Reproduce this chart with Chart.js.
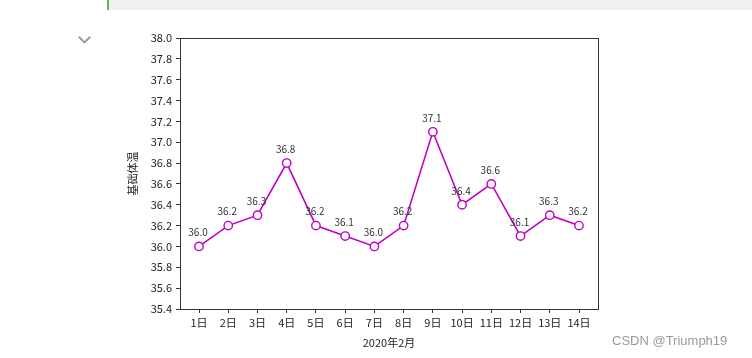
<!DOCTYPE html>
<html>
<head>
<meta charset="utf-8">
<script src="https://cdn.jsdelivr.net/npm/chart.js@4/dist/chart.umd.min.js"></script>
<style>
html,body{margin:0;padding:0;background:#fff;width:752px;height:358px;overflow:hidden;position:relative;}
#wrap{position:absolute;left:0;top:0;width:752px;height:358px;}
#bar{position:absolute;left:107px;top:0;width:645px;height:10px;background:#f0f0f0;border-left:2px solid #5cb85c;}
#chev{position:absolute;left:80px;top:33px;width:7px;height:7px;border-right:2px solid #999;border-bottom:2px solid #999;transform:rotate(45deg);}
#wm{position:absolute;left:612px;top:333px;font:13px "Liberation Sans",Arial,sans-serif;color:#999;}
</style>
</head>
<body>
<div id="wrap"><canvas id="c" width="752" height="358"></canvas></div>
<div id="bar"></div>
<div id="chev"></div>
<div id="wm">CSDN @Triumph19</div>
<script>
const categories = ['1日','2日','3日','4日','5日','6日','7日','8日','9日','10日','11日','12日','13日','14日'];
const temps = [36.0, 36.2, 36.3, 36.8, 36.2, 36.1, 36.0, 36.2, 37.1, 36.4, 36.6, 36.1, 36.3, 36.2];
const yTicks = [35.4, 35.6, 35.8, 36.0, 36.2, 36.4, 36.6, 36.8, 37.0, 37.2, 37.4, 37.6, 37.8, 38.0];
const xTitle = '2020年2月';
const yTitle = '基础体温';

const FONT = '"Noto Sans CJK SC", "DejaVu Sans", sans-serif';
const lineColor = '#c000c8';

const frame = {
  id: 'frame',
  afterDatasetsDraw(chart) {
    const {ctx, chartArea: a} = chart;
    ctx.save();
    ctx.strokeStyle = '#333';
    ctx.lineWidth = 1;
    ctx.strokeRect(Math.round(a.left)+0.5, Math.round(a.top)+0.5, Math.round(a.right-a.left), Math.round(a.bottom-a.top));
    const meta = chart.getDatasetMeta(0);
    ctx.font = '10px ' + FONT;
    ctx.fillStyle = '#333';
    ctx.textAlign = 'center';
    ctx.textBaseline = 'middle';
    meta.data.forEach((pt, i) => {
      ctx.fillText(temps[i].toFixed(1), pt.x - 1, pt.y - 14);
    });
    ctx.restore();
  }
};

new Chart(document.getElementById('c'), {
  type: 'line',
  data: {
    datasets: [{
      data: temps.map((v, i) => ({x: i, y: v})),
      borderColor: lineColor,
      borderWidth: 1.6,
      pointRadius: 4.2,
      pointBackgroundColor: '#fff',
      pointBorderColor: lineColor,
      pointBorderWidth: 1.4,
      tension: 0
    }]
  },
  options: {
    responsive: false,
    animation: false,
    events: [],
    layout: {padding: {left: 126, top: 38, right: 154, bottom: 9}},
    plugins: {legend: {display: false}, tooltip: {enabled: false}},
    scales: {
      x: {
        type: 'linear',
        min: -0.65,
        max: 13.65,
        afterBuildTicks(s) { s.ticks = categories.map((_, i) => ({value: i})); },
        afterFit(s) { s.height = 40; },
        ticks: {
          callback: (v) => categories[v] ?? '',
          autoSkip: false, maxRotation: 0, padding: 3,
          color: '#222', font: {size: 11, family: FONT}
        },
        grid: {drawOnChartArea: false, drawTicks: true, tickLength: 4, color: '#333'},
        border: {display: true, color: '#333'},
        title: {display: true, text: xTitle, color: '#222', font: {size: 11, family: FONT}, padding: {top: 0, bottom: 0}}
      },
      y: {
        min: 35.4,
        max: 38.0,
        afterBuildTicks(s) { s.ticks = yTicks.map(v => ({value: v})); },
        afterFit(s) { s.width = 54; },
        ticks: {
          callback: (v) => Number(v).toFixed(1),
          autoSkip: false, padding: 4,
          color: '#222', font: {size: 11, family: FONT}
        },
        grid: {drawOnChartArea: false, drawTicks: true, tickLength: 4, color: '#333'},
        border: {display: true, color: '#333'},
        title: {display: true, text: yTitle, color: '#222', font: {size: 11, family: FONT}, padding: {top: 0, bottom: 0}}
      }
    }
  },
  plugins: [frame]
});
</script>
</body>
</html>
